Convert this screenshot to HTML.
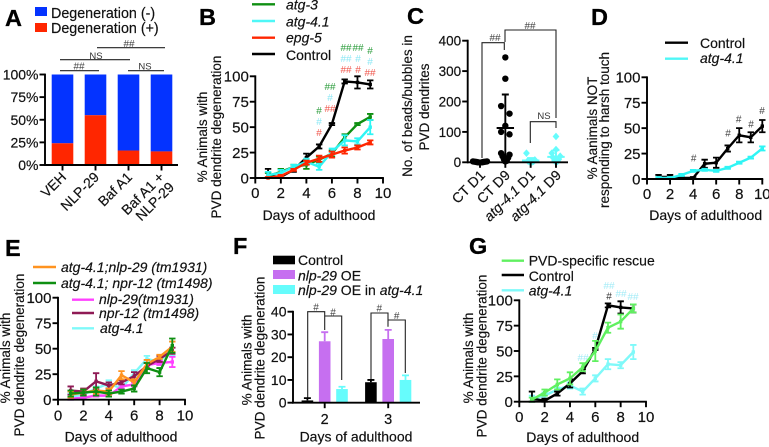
<!DOCTYPE html>
<html lang="en">
<head>
<meta charset="utf-8">
<title>Degeneration figure panels</title>
<style>
html,body{margin:0;padding:0;background:#fff;width:769px;height:447px;overflow:hidden}
svg{display:block}
text{font-family:"Liberation Sans",sans-serif;font-size:14px;fill:#111;stroke:#111;stroke-width:.18px}
.t{font-size:13.5px}
.p{font-size:23.5px;font-weight:bold;fill:#000;stroke:#000;stroke-width:.3px}
.i{font-style:italic}
.h{font-size:10px;fill:#444;stroke:none}
.ns{font-size:9.5px;fill:#333;stroke:none}
.m{text-anchor:middle}
.b{fill:none;stroke:#222;stroke-width:1.1}
</style>
</head>
<body>
<svg id="fig" xmlns="http://www.w3.org/2000/svg" width="769" height="447" viewBox="0 0 769 447">
  <!-- panel letters -->
  <text class="p" x="5" y="26">A</text>
  <text class="p" x="199" y="25">B</text>
  <text class="p" x="407" y="24">C</text>
  <text class="p" x="591" y="25">D</text>
  <text class="p" x="5" y="256">E</text>
  <text class="p" x="233" y="254">F</text>
  <text class="p" x="469" y="254">G</text>

  <!-- A legend and annotations -->
  <g>
    <rect x="35" y="7" width="12" height="9" fill="#0433ff"/>
    <rect x="35" y="23" width="12" height="9" fill="#ff2600"/>
    <text x="51" y="18" style="font-size:14.3px">Degeneration (-)</text>
    <text x="51" y="33" style="font-size:14.3px">Degeneration (+)</text>
  </g>
  <g>
    <path class="b" d="M60 70.7H99M128 70.7H164M60 59.7H130M97 47.7H165"/>
    <text class="h m" x="79" y="69.5">##</text>
    <text class="ns m" x="96" y="59">NS</text>
    <text class="ns m" x="145" y="69.5">NS</text>
    <text class="h m" x="129" y="47">##</text>
  </g>
  <g>
    <text text-anchor="end" transform="translate(67,178) rotate(-45)">VEH</text>
    <text text-anchor="end" transform="translate(100,178) rotate(-45)">NLP-29</text>
    <text text-anchor="end" transform="translate(133,178) rotate(-45)">Baf A1</text>
    <text text-anchor="end" transform="translate(165,178) rotate(-45)">Baf A1 +</text>
    <text text-anchor="end" transform="translate(175,188) rotate(-45)">NLP-29</text>
  </g>

  <!-- B text -->
  <g>
    <path d="M252 4.3H275" stroke="#0f8f12" stroke-width="2.4"/>
    <path d="M252 21H275" stroke="#4ff7f7" stroke-width="2.4"/>
    <path d="M252 37.7H275" stroke="#ff2600" stroke-width="2.4"/>
    <path d="M252 54H275" stroke="#000" stroke-width="2.4"/>
    <text class="i" x="286" y="9.5">atg-3</text>
    <text class="i" x="286" y="26.5">atg-4.1</text>
    <text class="i" x="286" y="42.7">epg-5</text>
    <text x="286" y="60">Control</text>
  </g>
  <text class="t m" transform="translate(207,137) rotate(-90)">% Animals with</text>
  <text class="t m" transform="translate(221,137) rotate(-90)">PVD dendrite degeneration</text>
  <text class="m" x="319" y="220">Days of adulthood</text>
  <g>
    <g><text class="h m" style="fill:#2e9e3e" x="346" y="51">##</text><text class="h m" style="fill:#2e9e3e" x="358" y="51">##</text><text class="h m" style="fill:#2e9e3e" x="370" y="54">#</text><text class="h m" style="fill:#2e9e3e" x="330" y="90">##</text><text class="h m" style="fill:#2e9e3e" x="319" y="114">#</text></g>
    <g><text class="h m" style="fill:#8fe8f5" x="346" y="62">##</text><text class="h m" style="fill:#8fe8f5" x="358" y="62">#</text><text class="h m" style="fill:#8fe8f5" x="370" y="65">#</text><text class="h m" style="fill:#8fe8f5" x="330" y="101">#</text><text class="h m" style="fill:#8fe8f5" x="319" y="125">#</text></g>
    <g><text class="h m" style="fill:#f05a50" x="346" y="73">##</text><text class="h m" style="fill:#f05a50" x="358" y="73">#</text><text class="h m" style="fill:#f05a50" x="370" y="76">##</text><text class="h m" style="fill:#f05a50" x="330" y="112">##</text><text class="h m" style="fill:#f05a50" x="319" y="136">#</text></g>
  </g>

  <!-- C text -->
  <text class="t m" transform="translate(412,106) rotate(-90)">No. of beads/bubbles in</text>
  <text class="t m" transform="translate(429,107) rotate(-90)">PVD dendrites</text>
  <g>
    <text text-anchor="end" transform="translate(486,176) rotate(-45)">CT D1</text>
    <text text-anchor="end" transform="translate(511,176) rotate(-45)">CT D9</text>
    <text class="i" text-anchor="end" transform="translate(536,176) rotate(-45)">atg-4.1 <tspan style="font-style:normal">D1</tspan></text>
    <text class="i" text-anchor="end" transform="translate(562,176) rotate(-45)">atg-4.1 <tspan style="font-style:normal">D9</tspan></text>
  </g>
  <g>
    <path class="b" d="M482 158V42.7H504.3V50M505 42V30H556V118M530.3 143V121.7H556V128"/>
    <text class="h m" x="495" y="41">##</text>
    <text class="h m" x="530" y="29">##</text>
    <text class="ns m" x="544" y="119">NS</text>
  </g>

  <!-- D text -->
  <g>
    <path d="M665 42.7H688" stroke="#000" stroke-width="2.4"/>
    <path d="M665 58.7H688" stroke="#4ff7f7" stroke-width="2.4"/>
    <text x="700" y="48">Control</text>
    <text class="i" x="700" y="63">atg-4.1</text>
  </g>
  <text class="t m" transform="translate(597,128) rotate(-90)">% Aanimals NOT</text>
  <text class="t m" transform="translate(609,130) rotate(-90)">responding to harsh touch</text>
  <text class="m" x="705.7" y="220">Days of adulthood</text>
  <g>
    <text class="h m" x="693.7" y="161.5">#</text><text class="h m" x="728" y="136.5">#</text><text class="h m" x="738.7" y="122.5">#</text><text class="h m" x="751" y="127.5">#</text><text class="h m" x="762" y="114">#</text>
  </g>

  <!-- E text -->
  <g>
    <path d="M33 267H56" stroke="#ff9320" stroke-width="2.4"/>
    <path d="M33 283H56" stroke="#0f8f12" stroke-width="2.4"/>
    <path d="M72 299.7H94" stroke="#ff40ff" stroke-width="2.4"/>
    <path d="M72 313H94" stroke="#8f1a55" stroke-width="2.4"/>
    <path d="M72 328.3H94" stroke="#7ff9f9" stroke-width="2.4"/>
    <text class="i" x="61" y="272">atg-4.1;nlp-29 (tm1931)</text>
    <text class="i" x="61" y="288">atg-4.1; npr-12 (tm1498)</text>
    <text class="i" x="99" y="304">nlp-29(tm1931)</text>
    <text class="i" x="99" y="318">npr-12 (tm1498)</text>
    <text class="i" x="100" y="333">atg-4.1</text>
  </g>
  <text class="t m" transform="translate(10,358) rotate(-90)">% Animals with</text>
  <text class="t m" transform="translate(24,355) rotate(-90)">PVD dendrite degeneration</text>
  <text class="m" x="121" y="441.7">Days of adulthood</text>

  <!-- F text -->
  <g>
    <rect x="273" y="255.7" width="22" height="8.6" fill="#000"/>
    <rect x="273" y="270" width="22" height="9" fill="#c66ff0"/>
    <rect x="273" y="285" width="22" height="9" fill="#66fcfc"/>
    <text x="298" y="265">Control</text>
    <text x="298" y="280.7"><tspan class="i">nlp-29</tspan> OE</text>
    <text x="298" y="295"><tspan class="i">nlp-29</tspan> OE in <tspan class="i">atg-4.1</tspan></text>
  </g>
  <text class="t m" transform="translate(251.7,360) rotate(-90)">% Animals with</text>
  <text class="t m" transform="translate(264.5,358) rotate(-90)">PVD dendrite degeneration</text>
  <text class="m" x="356" y="441.7">Days of adulthood</text>
  <g>
    <path class="b" d="M307.7 398V311.7H324.7V330M324.7 316H341.7V380M371 380V313H388V326.7M388 320H405.3V373"/>
    <text class="h m" x="316" y="310.5">#</text><text class="h m" x="333" y="315.5">#</text><text class="h m" x="379.3" y="311.5">#</text><text class="h m" x="396.7" y="319">#</text>
  </g>

  <!-- G text -->
  <g>
    <path d="M501.7 260.7H524" stroke="#60f060" stroke-width="2.4"/>
    <path d="M501.7 275H524" stroke="#000" stroke-width="2.4"/>
    <path d="M501.7 290.3H524" stroke="#7ff9f9" stroke-width="2.4"/>
    <text x="528.7" y="265.7">PVD-specific rescue</text>
    <text x="528.7" y="281">Control</text>
    <text class="i" x="528.7" y="295.7">atg-4.1</text>
  </g>
  <text class="t m" transform="translate(473,358) rotate(-90)">% Animals with</text>
  <text class="t m" transform="translate(486.7,356) rotate(-90)">PVD dendrite degeneration</text>
  <text class="m" x="582.7" y="442">Days of adulthood</text>
  <g>
    <text class="h m" style="fill:#a5ecf7" x="609" y="289">##</text><text class="h m" style="fill:#a5ecf7" x="621" y="297">##</text><text class="h m" style="fill:#a5ecf7" x="633" y="300">##</text><text class="h m" style="fill:#a5ecf7" x="595" y="339">#</text><text class="h m" style="fill:#a5ecf7" x="583" y="361">##</text><text class="h m" style="fill:#333" x="609" y="299.5">#</text>
  </g>
</svg>
<script>
// ---- Panel A data
const aCategories = ['VEH', 'NLP-29', 'Baf A1', 'Baf A1 + NLP-29'];
const aPositive = [24, 55, 16, 15];
const aNegative = [76, 45, 84, 85];
const aTicks = [0, 25, 50, 75, 100];
// ---- Panel B data
const dayTicks = [0, 2, 4, 6, 8, 10];
const pctTicks = [0, 25, 50, 75, 100];
const days9 = [1, 2, 3, 4, 5, 6, 7, 8, 9];
const days10 = [1, 2, 3, 4, 5, 6, 7, 8, 9, 10];
const bControl = [2, 1, 8, 20, 31, 53, 95, 94, 92];
const bControlErr = [7, 2, 2, 4, 2, 1, 2, 6, 4];
const bAtg3 = [2, 6, 11, 13, 18, 24, 40, 53, 60];
const bAtg3Err = [3, 3, 2, 4, 3, 3, 3, 1, 3];
const bAtg41 = [3, 5, 11, 16, 11, 26, 37, 36, 50];
const bAtg41Err = [3, 3, 2, 3, 3, 3, 5, 3, 7];
const bEpg5 = [0, 2, 8, 15, 19, 23, 27, 30, 35];
const bEpg5Err = [1, 1, 1, 2, 3, 3, 3, 2, 2];
// ---- Panel C data
const cTicks = [0, 100, 200, 300, 400];
const cCategories = ['CT D1', 'CT D9', 'atg-4.1 D1', 'atg-4.1 D9'];
const cCtD1 = [0, 0, 1, 2, 2, 3, 3, 1];
const cCtD9 = [345, 275, 185, 160, 120, 100, 92, 30, 25, 20, 15, 10, 5, 3];
const cAtgD1 = [30, 8, 5, 3, 2, 1, 1];
const cAtgD9 = [85, 42, 30, 20, 15, 10, 5, 3, 2];
const cMeans = [1, 113, 6, 18];
const cUpper = [3, 223, 14, 40];
const cLower = [0, 0, 0, 0];
// ---- Panel D data
const dControl = [2, 2, 1, 1, 15, 16, 30, 43, 41, 52];
const dControlErr = [2, 2, 1, 1, 4, 5, 3, 7, 5, 6];
const dAtg41 = [1, 1, 4, 8, 9, 8, 11, 16, 21, 30];
const dAtg41Err = [1, 1, 1, 1, 1, 1, 1, 1, 1, 2];
// ---- Panel E data
const eOrange = [5, 7, 9, 8, 24, 17, 35, 42, 52];
const eOrangeErr = [3, 3, 3, 3, 4, 3, 4, 2, 5];
const eGreen = [6, 7, 8, 6, 8, 11, 31, 27, 53];
const eGreenErr = [3, 3, 4, 3, 2, 3, 5, 4, 7];
const eMagenta = [1, 2, 4, 4, 13, 15, 34, 36, 37];
const eMagentaErr = [1, 1, 1, 1, 2, 2, 2, 2, 5];
const ePurple = [9, 8, 18, 14, 17, 23, 33, 40, 48];
const ePurpleErr = [4, 3, 8, 3, 2, 4, 3, 3, 3];
const eCyan = [3, 5, 11, 16, 11, 26, 40, 37, 50];
const eCyanErr = [3, 3, 2, 3, 3, 3, 3, 3, 7];
// ---- Panel F data
const fTicks = [0, 10, 20, 30, 40];
const fDays = ['2', '3'];
const fControl = [1, 9];
const fControlErr = [1, 1];
const fOE = [27, 28];
const fOEErr = [4, 4];
const fOEAtg = [6, 10];
const fOEAtgErr = [1, 2];
// ---- Panel G data
const gRescue = [2, 9, 17, 23, 34, 50, 73, 79, 92];
const gRescueErr = [2, 3, 5, 6, 4, 10, 5, 7, 4];
const gControl = [3, 1, 8, 18, 30, 52, 95, 93, 92];
const gControlErr = [7, 2, 2, 4, 2, 1, 2, 6, 4];
const gAtg41 = [3, 6, 12, 16, 10, 23, 37, 36, 49];
const gAtg41Err = [3, 3, 2, 3, 3, 3, 5, 3, 7];

const NS = 'http://www.w3.org/2000/svg';
const fig = document.getElementById('fig');
const AXIS_W = 1.9;

function make(parent, tag, attrs, name) {
  const el = document.createElementNS(NS, tag);
  for (const k in attrs) el.setAttribute(k, attrs[k]);
  
  
  parent.appendChild(el);
  return el;
}
function linearScale(d0, d1, r0, r1) {
  return function (v) { return r0 + (v - d0) * (r1 - r0) / (d1 - d0); };
}
function label(parent, x, y, str, anchor, name, size) {
  const t = make(parent, 'text', { x: x, y: y, 'text-anchor': anchor }, name);
  t.style.fontSize = size + 'px';
  t.textContent = str;
  return t;
}
function yAxis(g, xPos, sy, ticks, suffix, name, size) {
  make(g, 'line', { x1: xPos, x2: xPos, y1: sy(ticks[0]) + 0.9, y2: sy(ticks[ticks.length - 1]) - 0.9, stroke: '#000', 'stroke-width': AXIS_W }, name + '-y-axis');
  ticks.forEach(function (t) {
    make(g, 'line', { x1: xPos - 5.5, x2: xPos, y1: sy(t), y2: sy(t), stroke: '#000', 'stroke-width': AXIS_W }, name + '-y-tick');
    label(g, xPos - 6.5, sy(t) + size * 0.36, t + suffix, 'end', name + '-y-tick-label', size);
  });
}
function xAxisLine(g, x0, x1, yPos, name) {
  make(g, 'line', { x1: x0, x2: x1, y1: yPos, y2: yPos, stroke: '#000', 'stroke-width': AXIS_W }, name + '-x-axis');
}
function xTick(g, x, yPos, name) {
  make(g, 'line', { x1: x, x2: x, y1: yPos, y2: yPos + 5.5, stroke: '#000', 'stroke-width': AXIS_W }, name + '-x-tick');
}
function errorBar(g, x, yTop, yBottom, color, width, capW, name) {
  make(g, 'path', {
    d: 'M' + x + ' ' + yBottom + 'V' + yTop + 'M' + (x - capW) + ' ' + yTop + 'H' + (x + capW) + 'M' + (x - capW) + ' ' + yBottom + 'H' + (x + capW),
    stroke: color, 'stroke-width': width, fill: 'none'
  }, name);
}
function lineChart(name, box, xs, series) {
  const g = make(fig, 'g', {}, name);
  const sx = linearScale(0, 10, box.x0, box.x1);
  const sy = linearScale(0, 100, box.y0, box.y1);
  series.forEach(function (s) {
    const sg = make(g, 'g', {}, name + '-series-' + s.id);
    const pts = s.values.map(function (v, i) { return sx(xs[i]) + ',' + sy(v); }).join(' ');
    make(sg, 'polyline', { points: pts, fill: 'none', stroke: s.color, 'stroke-width': 2.4, 'stroke-linejoin': 'round' }, s.id + '-line');
    s.values.forEach(function (v, i) {
      const top = sy(v + s.err[i]);
      const bot = sy(Math.max(0, v - s.err[i]));
      errorBar(sg, sx(xs[i]), top, bot, s.color, 1.8, 3.2, s.id + '-error-bar');
      make(sg, 'rect', { x: sx(xs[i]) - 1.7, y: sy(v) - 1.7, width: 3.4, height: 3.4, fill: s.color }, s.id + '-point');
    });
  });
  yAxis(g, box.x0, sy, pctTicks, '', name, 15);
  xAxisLine(g, box.x0 - 0.9, box.x1 + 0.9, box.y0, name);
  dayTicks.forEach(function (t) {
    xTick(g, sx(t), box.y0, name);
    label(g, sx(t), box.tickY, String(t), 'middle', name + '-x-tick-label', 15);
  });
}

// Panel A: stacked bars
(function () {
  const g = make(fig, 'g', {}, 'panel-a-chart');
  const sy = linearScale(0, 100, 165, 74.5);
  const bandX = function (i) { return 62.5 + 33 * i; };
  aCategories.forEach(function (c, i) {
    make(g, 'rect', { x: bandX(i) - 10.8, width: 21.6, y: sy(aPositive[i] + aNegative[i]), height: sy(aPositive[i]) - sy(aPositive[i] + aNegative[i]), fill: '#0433ff' }, 'bar-negative');
    make(g, 'rect', { x: bandX(i) - 10.8, width: 21.6, y: sy(aPositive[i]), height: sy(0) - sy(aPositive[i]), fill: '#ff2600' }, 'bar-positive');
    xTick(g, bandX(i), 165, 'panel-a');
  });
  yAxis(g, 45, sy, aTicks, '%', 'panel-a', 14);
  xAxisLine(g, 44, 178, 165, 'panel-a');
})();

lineChart('panel-b-chart', { x0: 255.3, x1: 383, y0: 178, y1: 76.3, tickY: 198 }, days9, [
  { id: 'control', values: bControl, err: bControlErr, color: '#000' },
  { id: 'atg-3', values: bAtg3, err: bAtg3Err, color: '#0f8f12' },
  { id: 'atg-4-1', values: bAtg41, err: bAtg41Err, color: '#2ff5f5' },
  { id: 'epg-5', values: bEpg5, err: bEpg5Err, color: '#ff2600' }
]);

// Panel C: scatter with mean and SD
(function () {
  const g = make(fig, 'g', {}, 'panel-c-chart');
  const sy = linearScale(0, 400, 162.3, 40.7);
  const catX = function (i) { return 480 + 25.33 * i; };
  const groups = [cCtD1, cCtD9, cAtgD1, cAtgD9];
  const colors = ['#000', '#000', '#66fcfc', '#66fcfc'];
  groups.forEach(function (vals, i) {
    const bins = {};
    vals.forEach(function (v) {
      const b = Math.floor(v / 40);
      (bins[b] = bins[b] || []).push(v);
    });
    Object.keys(bins).forEach(function (b) {
      const list = bins[b].slice().sort(function (p, q) { return q - p; });
      const n = list.length;
      const flat = list[0] - list[n - 1] < 5;
      const half = n === 1 ? 0 : (flat ? 7 : 4.2);
      list.forEach(function (v, j) {
        // largest values go to the outside of the swarm, smallest to the centre
        const side = j % 2 === 0 ? -1 : 1;
        const rank = Math.floor(j / 2);
        const maxRank = Math.floor((n - 1) / 2) || 1;
        const off = n === 1 ? 0 : (n % 2 === 1 && j === n - 1) ? 0 : side * half * (1 - rank / (maxRank + (n % 2 === 1 ? 0 : 1)));
        const cx = catX(i) + off;
        const cy = sy(v);
        const nm = 'point-' + cCategories[i].replace(/[ .]/g, '-').toLowerCase();
        if (i < 2) {
          make(g, 'circle', { cx: cx, cy: cy, r: 3.2, fill: colors[i] }, nm);
        } else {
          make(g, 'path', { d: 'M' + cx + ' ' + (cy - 3.8) + 'L' + (cx + 3.4) + ' ' + cy + 'L' + cx + ' ' + (cy + 3.8) + 'L' + (cx - 3.4) + ' ' + cy + 'Z', fill: colors[i] }, nm);
        }
      });
    });
    const c = colors[i];
    make(g, 'line', { x1: catX(i) - 8.7, x2: catX(i) + 8.7, y1: sy(cMeans[i]), y2: sy(cMeans[i]), stroke: c, 'stroke-width': 2 }, 'mean-line');
    errorBar(g, catX(i), sy(cUpper[i]), sy(cLower[i]), c, 1.9, 3.5, 'sd-error-bar');
    xTick(g, catX(i), 162.3, 'panel-c');
  });
  yAxis(g, 467.7, sy, cTicks, '', 'panel-c', 13.5);
  xAxisLine(g, 467, 568, 162.3, 'panel-c');
})();

lineChart('panel-d-chart', { x0: 647, x1: 762.3, y0: 179, y1: 77.3, tickY: 199 }, days10, [
  { id: 'control', values: dControl, err: dControlErr, color: '#000' },
  { id: 'atg-4-1', values: dAtg41, err: dAtg41Err, color: '#2ff5f5' }
]);

lineChart('panel-e-chart', { x0: 58, x1: 185, y0: 399.7, y1: 297.7, tickY: 420.7 }, days9, [
  { id: 'atg-4-1', values: eCyan, err: eCyanErr, color: '#7ff9f9' },
  { id: 'nlp-29', values: eMagenta, err: eMagentaErr, color: '#ff40ff' },
  { id: 'npr-12', values: ePurple, err: ePurpleErr, color: '#8f1a55' },
  { id: 'atg-4-1-nlp-29', values: eOrange, err: eOrangeErr, color: '#ff9320' },
  { id: 'atg-4-1-npr-12', values: eGreen, err: eGreenErr, color: '#0f8f12' }
]);

// Panel F: grouped bars
(function () {
  const g = make(fig, 'g', {}, 'panel-f-chart');
  const sy = linearScale(0, 40, 402.7, 311.7);
  const groupX = function (i) { return 324.7 + 63.5 * i; };
  const offsets = [-17.3, 0, 17.3];
  const sets = [[fControl, fControlErr, '#000'], [fOE, fOEErr, '#c66ff0'], [fOEAtg, fOEAtgErr, '#66fcfc']];
  fDays.forEach(function (d, i) {
    sets.forEach(function (s, k) {
      const x = groupX(i) + offsets[k];
      const v = s[0][i];
      make(g, 'rect', { x: x - 5.8, width: 11.6, y: sy(v), height: sy(0) - sy(v), fill: s[2] }, 'bar-day-' + d);
      make(g, 'path', { d: 'M' + x + ' ' + sy(v) + 'V' + sy(v + s[1][i]) + 'M' + (x - 3.5) + ' ' + sy(v + s[1][i]) + 'H' + (x + 3.5), stroke: s[2], 'stroke-width': 1.8, fill: 'none' }, 'bar-error');
    });
    xTick(g, groupX(i), 402.7, 'panel-f');
    label(g, groupX(i), 424, d, 'middle', 'panel-f-x-tick-label', 14.5);
  });
  yAxis(g, 293, sy, fTicks, '', 'panel-f', 14);
  xAxisLine(g, 292, 420, 402.7, 'panel-f');
})();

lineChart('panel-g-chart', { x0: 519.3, x1: 646, y0: 401.7, y1: 300.3, tickY: 422 }, days9, [
  { id: 'atg-4-1', values: gAtg41, err: gAtg41Err, color: '#7ff9f9' },
  { id: 'control', values: gControl, err: gControlErr, color: '#000' },
  { id: 'rescue', values: gRescue, err: gRescueErr, color: '#60f060' }
]);
</script>
</body>
</html>
